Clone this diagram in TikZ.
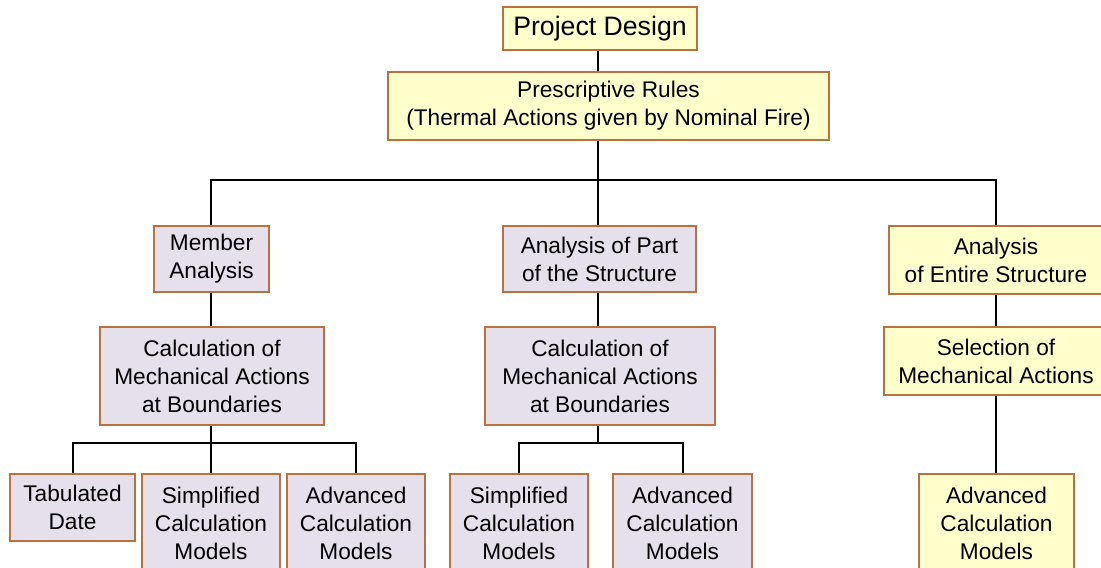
\documentclass[tikz,border=0pt]{standalone}
\usepackage{fontspec}
\setmainfont{Liberation Sans}
\usetikzlibrary{positioning, calc}
\definecolor{boxyellow}{HTML}{FFFFCC}
\definecolor{boxlilac}{HTML}{E6E0EC}
\definecolor{boxedge}{HTML}{B8723E}
\tikzset{
    box/.style={draw=boxedge, line width=1.1pt, inner sep=0pt, align=center,
        font=\fontsize{17}{21}\selectfont},
    ybox/.style={box, fill=boxyellow},
    lbox/.style={box, fill=boxlilac},
    size/.style 2 args={minimum width=#1*0.75pt, minimum height=#2*0.75pt},
    link/.style={line width=1.5pt, black}
}

\begin{document}
\begin{tikzpicture}[x=0.75pt, y=-0.75pt]
    \useasboundingbox (0,0) rectangle (1101,568);

    %Top
    \node[ybox, size={194}{43}, font=\fontsize{20}{24}\selectfont] (design) at (600, 28.5) {Project Design};
    \node[ybox, size={441}{68}] (rules) at (608.5, 106) {Prescriptive Rules\\(Thermal Actions given by Nominal Fire)};

    %Analysis level
    \node[lbox, size={115}{66}] (member) at (211.5, 259) {Member\\Analysis};
    \node[lbox, size={193}{66}] (part) at (599.5, 259) {Analysis of Part\\of the Structure};
    \node[ybox, size={214}{68}] (entire) at (996, 260) {Analysis\\of Entire Structure};

    %Actions level
    \node[lbox, size={224}{98}] (calcl) at (212, 376) {Calculation of\\Mechanical Actions\\at Boundaries};
    \node[lbox, size={230}{98}] (calcm) at (600, 376) {Calculation of\\Mechanical Actions\\at Boundaries};
    \node[ybox, size={224}{68}] (select) at (996, 361) {Selection of\\Mechanical Actions};

    %Models
    \node[lbox, size={125}{67}] (tab) at (72.5, 507.5) {Tabulated\\Date};
    \node[lbox, size={138}{98}] (simpl) at (211, 523) {Simplified\\Calculation\\Models};
    \node[lbox, size={138}{98}] (advl) at (356, 523) {Advanced\\Calculation\\Models};
    \node[lbox, size={138}{98}] (simpm) at (519, 523) {Simplified\\Calculation\\Models};
    \node[lbox, size={139}{98}] (advm) at (682.5, 523) {Advanced\\Calculation\\Models};
    \node[ybox, size={155}{98}] (advr) at (996.5, 523) {Advanced\\Calculation\\Models};

    %Bus points
    \coordinate (bus) at (598, 180);
    \coordinate (busl) at (211, 443);
    \coordinate (busm) at (598, 443);

    %Lines
    \draw[link] (design.south -| bus) -- (rules.north -| bus);
    \draw[link] (rules.south -| bus) -- (bus);
    \draw[link] (member.north -| busl) |- (bus) -| (entire.north);
    \draw[link] (bus) -- (part.north -| bus);

    \draw[link] (member.south -| busl) -- (calcl.north -| busl);
    \draw[link] (calcl.south -| busl) -- (busl);
    \draw[link] (tab.north) |- (busl) -| (advl.north);
    \draw[link] (busl) -- (simpl.north -| busl);

    \draw[link] (part.south -| busm) -- (calcm.north -| busm);
    \draw[link] (calcm.south -| busm) -- (busm);
    \draw[link] (simpm.north) |- (busm) -| (advm.north);

    \draw[link] (entire.south) -- (select.north);
    \draw[link] (select.south) -- (advr.north -| select);
\end{tikzpicture}
\end{document}
